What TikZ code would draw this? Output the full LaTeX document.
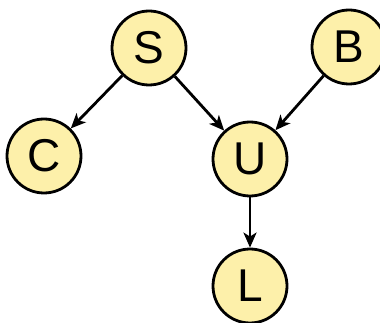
\documentclass[tikz,border=0pt]{standalone}
\usepackage{fontspec}
\setmainfont{Liberation Sans}
\usetikzlibrary{arrows.meta}
\definecolor{nodefill}{RGB}{253,240,170}
\begin{document}
\begin{tikzpicture}[x=1pt,y=-1pt,
  var/.style={circle,draw=black,line width=2.8pt,fill=nodefill,minimum size=74pt,inner sep=0pt,font=\fontsize{46}{46}\selectfont},
  edge/.style={line width=2.8pt,-{Stealth[length=15pt,width=13pt,inset=4pt]}}]
\useasboundingbox (0,0) rectangle (380,323);
\node[var] (S) at (149,48) {S};
\node[var] (B) at (349,47) {B};
\node[var] (C) at (44,156) {C};
\node[var] (U) at (250,159) {U};
\node[var] (L) at (250,286) {L};
\draw[edge] (S) -- (C);
\draw[edge] (S) -- (U);
\draw[edge] (B) -- (U);
\draw[edge] (U) -- (L);
\end{tikzpicture}
\end{document}
